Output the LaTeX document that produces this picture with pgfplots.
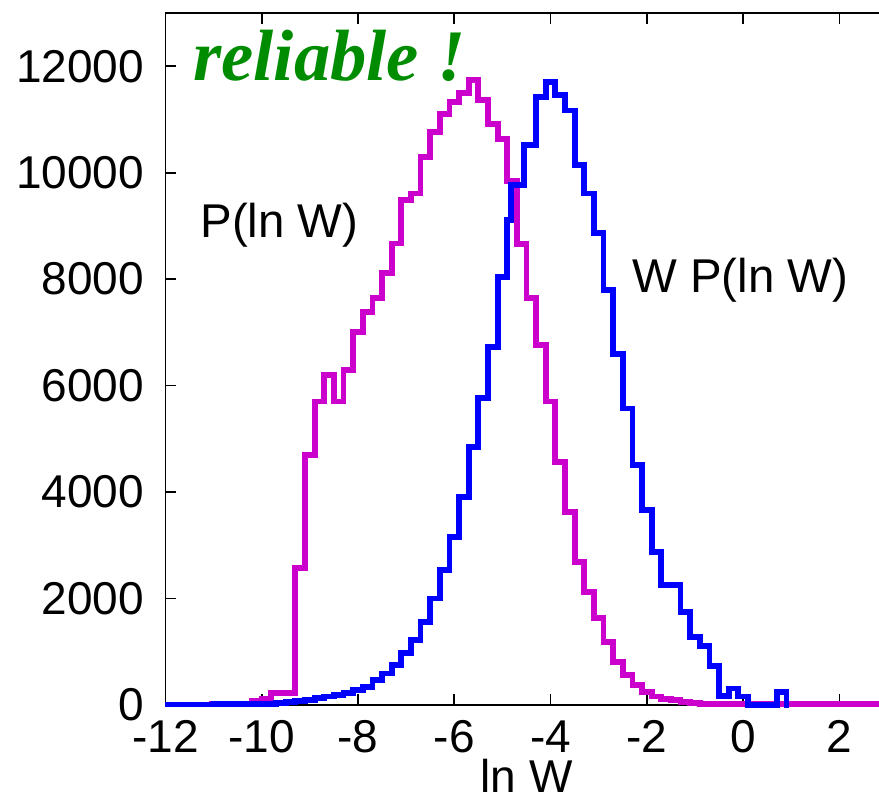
\documentclass[border=0pt]{standalone}
\usepackage{fontspec}
\setmainfont{Liberation Sans}
\newfontfamily\seriffont{Liberation Serif}
\usepackage{pgfplots}
\pgfplotsset{compat=1.18}
\definecolor{mymag}{RGB}{204,0,204}
\definecolor{myblue}{RGB}{0,0,255}
\definecolor{mygreen}{RGB}{0,140,0}
\begin{document}
\begin{tikzpicture}
\begin{axis}[
 scale only axis, width=361.1pt, height=346pt,
 xmin=-12, xmax=3, ymin=0, ymax=13000,
 xtick={-12,-10,-8,-6,-4,-2,0,2}, xticklabels={-12,-10,-8,-6,-4,-2,0,2},
 ytick={0,2000,4000,6000,8000,10000,12000}, yticklabels={0,2000,4000,6000,8000,10000,12000},
 scaled ticks=false,
 tick align=inside, major tick length=5.5pt,
 ytick pos=left, xtick pos=both, xticklabel pos=lower,
 axis line style={line width=0.85pt},
 major tick style={line width=0.85pt, black},
 tick label style={font=\fontsize{23}{23}\selectfont, inner sep=0pt},
 xticklabel style={anchor=north, yshift=-7.5pt},
 yticklabel style={anchor=east, xshift=-10.5pt},
 xlabel={ln W},
 xlabel style={font=\fontsize{23}{23}\selectfont, inner sep=0pt, at={(axis description cs:0.5,0)}, anchor=base, yshift=-44pt},
 clip=false,
]
\addplot[const plot mark left, mymag, line width=2.9pt, mark=none] coordinates {
(-11.1,15) (-10.2,80) (-10.0,110) (-9.8,220) (-9.3,2570) (-9.1,4690) (-8.9,5700) (-8.7,6200) (-8.5,5700) (-8.3,6290)
(-8.1,7010) (-7.9,7390) (-7.7,7640) (-7.5,8110) (-7.3,8670) (-7.1,9480) (-6.9,9610) (-6.7,10300) (-6.5,10770) (-6.3,11110)
(-6.1,11330) (-5.9,11490) (-5.7,11740) (-5.5,11360) (-5.3,10920) (-5.1,10640) (-4.9,9840) (-4.7,8660) (-4.5,7640) (-4.3,6760)
(-4.1,5700) (-3.9,4570) (-3.7,3630) (-3.5,2690) (-3.3,2130) (-3.1,1630) (-2.9,1190) (-2.7,810) (-2.5,560) (-2.3,375)
(-2.1,250) (-1.9,160) (-1.7,120) (-1.5,90) (-1.3,60) (-1.1,40) (-0.9,25) (0.1,20) (3.0,20)
};
\addplot[const plot mark left, myblue, line width=2.9pt, mark=none] coordinates {
(-12,10) (-11,15) (-10.3,25) (-9.7,35) (-9.5,50) (-9.3,70) (-9.1,100) (-8.9,130) (-8.7,160) (-8.5,190)
(-8.3,220) (-8.1,280) (-7.9,340) (-7.7,470) (-7.5,590) (-7.3,750) (-7.1,970) (-6.9,1220) (-6.7,1560) (-6.5,2000)
(-6.3,2540) (-6.1,3160) (-5.9,3910) (-5.7,4850) (-5.5,5760) (-5.3,6730) (-5.1,8040) (-4.9,9110) (-4.83,9770) (-4.55,10520)
(-4.3,11420) (-4.1,11700) (-3.9,11460) (-3.7,11170) (-3.5,10140) (-3.3,9610) (-3.1,8860) (-2.9,7790) (-2.7,6600) (-2.5,5570)
(-2.3,4510) (-2.1,3660) (-1.9,2880) (-1.7,2250) (-1.3,1750) (-1.1,1280) (-0.9,1110) (-0.7,740) (-0.5,170) (-0.3,310)
(-0.1,160) (0.1,0) (0.7,250) (0.9,0) (0.95,0)
};
\node[anchor=base west, inner sep=0pt, font=\fontsize{23.7}{23.7}\selectfont] at (axis cs:-11.28,8789) {P(ln W)};
\node[anchor=base west, inner sep=0pt, font=\fontsize{23.7}{23.7}\selectfont] at (axis cs:-2.31,7756) {W P(ln W)};
\node[anchor=base west, inner sep=0pt, text=mygreen, font=\seriffont\bfseries\itshape\fontsize{36.3}{36.3}\selectfont] at (axis cs:-11.43,11737) {reliable !};
\coordinate (bl) at (rel axis cs:0,0);
\end{axis}
\pgfresetboundingbox
\path[use as bounding box] ([xshift=-82.7pt,yshift=-44pt]bl) rectangle ([xshift=356.8pt,yshift=352.5pt]bl);
\end{tikzpicture}
\end{document}
